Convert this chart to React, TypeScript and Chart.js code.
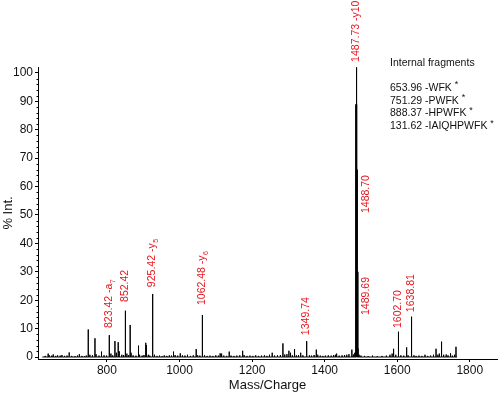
import React, { useEffect, useRef } from "react";
import { Chart, registerables } from "chart.js";

Chart.register(...registerables);

// Peak list (m/z, % intensity)
const peakMz = [
  630, 638, 641, 648, 652, 659, 664, 671, 676, 683, 690, 696, 703, 712, 719, 724, 731, 738, 743,
  748.5, 753, 760, 767, 770, 778, 785, 792, 799, 806.5, 811, 816, 822, 826, 831, 834, 841, 846,
  850, 851.5, 855, 860, 864, 866.5, 872, 880, 887, 890, 897, 902, 907, 909, 914, 918,
  925.42, 926.5, 931, 938, 945, 952, 958, 965, 972, 978, 983.5, 988, 995, 1002, 1008, 1015,
  1022, 1030, 1038, 1046, 1050, 1056, 1062.48, 1063.5, 1069, 1076, 1084, 1092, 1100, 1107,
  1112, 1116, 1122, 1130, 1137, 1142, 1150, 1158, 1166, 1174, 1178, 1186, 1194, 1202, 1210,
  1218, 1226, 1234, 1241, 1248, 1255.5, 1262, 1270, 1278, 1285, 1290, 1296, 1301.5, 1306,
  1311, 1317, 1322, 1328, 1334, 1340, 1349.74, 1351, 1358, 1364, 1371, 1377, 1381, 1388,
  1395, 1402, 1410, 1418, 1425, 1430, 1433, 1440, 1448, 1455, 1461, 1467, 1475, 1479, 1483,
  1486.9, 1487.73, 1488.7, 1489.69, 1490.6, 1492, 1495, 1500, 1510, 1520, 1532, 1545, 1558,
  1570, 1580, 1586, 1590, 1596, 1602.7, 1604, 1610, 1618, 1626, 1630, 1638.81, 1640, 1646,
  1652, 1660, 1668, 1676.5, 1684, 1692, 1700, 1707, 1712, 1716, 1721, 1723, 1728, 1735, 1740,
  1747, 1752, 1758, 1762,
];
const peakInt = [
  0.4, 1.2, 0.6, 0.5, 0.9, 0.4, 0.6, 0.5, 0.7, 0.4, 0.5, 1.6, 0.4, 0.3, 0.5, 1.0, 0.4, 0.3, 0.5,
  9.7, 0.8, 0.6, 6.6, 1.0, 0.5, 1.9, 0.6, 0.5, 7.7, 1.2, 0.6, 5.6, 1.5, 5.2, 2.0, 0.8, 0.7,
  16.3, 11.5, 1.2, 0.7, 11.3, 1.5, 0.6, 0.5, 4.0, 0.8, 0.5, 0.7, 5.0, 4.2, 0.8, 0.5,
  22.2, 8.9, 0.8, 0.4, 0.5, 0.3, 0.6, 0.4, 0.6, 0.5, 1.9, 0.7, 0.5, 1.3, 0.6, 0.5,
  0.8, 0.4, 0.6, 2.8, 0.6, 0.5, 14.8, 3.2, 0.6, 0.4, 0.5, 0.4, 0.6, 0.5,
  1.3, 1.2, 0.5, 0.4, 1.9, 0.5, 0.4, 0.5, 0.6, 2.2, 0.7, 0.4, 0.5, 0.4, 0.6,
  0.4, 0.5, 0.6, 0.4, 0.8, 1.5, 0.5, 0.6, 0.7, 4.8, 0.9, 1.0, 2.2, 1.5,
  0.6, 2.8, 0.6, 0.7, 1.5, 0.6, 5.6, 1.8, 0.6, 0.5, 0.7, 2.6, 0.8, 0.5,
  0.4, 0.5, 0.6, 0.5, 0.7, 0.8, 1.2, 0.5, 0.6, 0.7, 0.8, 1.0, 2.6, 0.9, 1.5,
  89, 102, 66, 30, 12, 3, 0.8, 0.5, 0.4, 0.3, 0.5, 0.3, 0.4,
  0.5, 0.8, 1.2, 2.9, 0.8, 8.9, 1.5, 0.6, 0.5, 3.4, 0.6, 14.2, 3.5, 0.6,
  0.4, 0.5, 0.4, 0.8, 0.4, 0.5, 0.8, 2.9, 0.8, 1.2, 5.4, 3.6, 0.8, 0.9, 0.6,
  1.3, 0.5, 0.8, 3.6,
];
const baselineStart = 622;
const baselineEnd = 1765;

const xTicks = [800, 1000, 1200, 1400, 1600, 1800];
const yTicks = [0, 10, 20, 30, 40, 50, 60, 70, 80, 90, 100];

// Peak annotations
const labelText = ["823.42 -a", "852.42", "925.42 -y", "1062.48 -y", "1349.74", "1487.73 -y10", "1488.70", "1489.69", "1602.70", "1638.81"];
const labelSub = ["7", "", "5", "6", "", "", "", "", "", ""];
const labelAtMz = [806.5, 850, 925.42, 1062.48, 1349.74, 1487.73, 1513.5, 1513.5, 1602.7, 1638.81];
const labelAtInt = [10.2, 19.4, 24.6, 18.3, 7.7, 103.9, 50.7, 14.8, 10.2, 15.8];

// Internal fragments box
const fragTitle = "Internal fragments";
const fragMass = ["653.96", "751.29", "888.37", "131.62"];
const fragSeq = ["WFK", "PWFK", "HPWFK", "IAIQHPWFK"];

const FONT = "'Liberation Sans', Arial, Helvetica, sans-serif";

export default function App() {
  const ref = useRef<HTMLCanvasElement | null>(null);

  useEffect(() => {
    const canvas = ref.current;
    if (!canvas) return;

    const pts: { x: number; y: number }[] = [{ x: baselineStart, y: 0 }];
    const order = peakMz.map((_, i) => i).sort((a, b) => peakMz[a] - peakMz[b]);
    for (const i of order) {
      pts.push({ x: peakMz[i], y: 0 });
      pts.push({ x: peakMz[i], y: peakInt[i] });
      pts.push({ x: peakMz[i], y: 0 });
    }
    pts.push({ x: baselineEnd, y: 0 });

    const annot = {
      id: "annot",
      afterDraw(chart: any) {
        const ctx = chart.ctx as CanvasRenderingContext2D;
        const xs = chart.scales.x;
        const ys = chart.scales.y;
        // minor y ticks
        ctx.save();
        ctx.strokeStyle = "#000";
        ctx.lineWidth = 1;
        const ax = Math.round(chart.chartArea.left) + 0.5;
        for (let v = 2; v <= 100; v += 2) {
          if (v % 10 === 0) continue;
          const py = Math.round(ys.getPixelForValue(v)) + 0.5;
          ctx.beginPath();
          ctx.moveTo(ax - 2, py);
          ctx.lineTo(ax, py);
          ctx.stroke();
        }
        ctx.restore();

        // red peak labels
        ctx.save();
        ctx.fillStyle = "#e8141b";
        for (let i = 0; i < labelText.length; i++) {
          const px = xs.getPixelForValue(labelAtMz[i]);
          const py = ys.getPixelForValue(labelAtInt[i]);
          ctx.save();
          ctx.translate(px, py);
          ctx.rotate(-Math.PI / 2);
          ctx.textAlign = "left";
          ctx.textBaseline = "middle";
          ctx.font = `10.5px ${FONT}`;
          ctx.fillText(labelText[i], 0, 0);
          if (labelSub[i]) {
            const w = ctx.measureText(labelText[i]).width;
            ctx.font = `7px ${FONT}`;
            ctx.fillText(labelSub[i], w + 0.5, 3.5);
          }
          ctx.restore();
        }
        ctx.restore();

        // internal fragments text
        ctx.save();
        ctx.fillStyle = "#111";
        ctx.textAlign = "left";
        ctx.textBaseline = "middle";
        ctx.font = `10.5px ${FONT}`;
        const x0 = 390;
        ctx.fillText(fragTitle, x0, 63);
        for (let i = 0; i < fragMass.length; i++) {
          const y = 88 + i * 12.7;
          const s = `${fragMass[i]} -${fragSeq[i]} `;
          ctx.font = `10.5px ${FONT}`;
          ctx.fillText(s, x0, y);
          const w = ctx.measureText(s).width;
          ctx.font = `9px ${FONT}`;
          ctx.fillText("*", x0 + w, y - 3);
        }
        ctx.restore();
      },
    };

    const chart = new Chart(canvas, {
      type: "line",
      data: {
        datasets: [
          {
            data: pts,
            borderColor: "#000",
            borderWidth: 1,
            pointRadius: 0,
            tension: 0,
            fill: false,
            segment: {
              borderWidth: (c: any) => {
                const h = Math.max(c.p0.parsed.y, c.p1.parsed.y);
                if (h > 60 && h < 95) return 2.2;
                if (h >= 25 && h <= 60) return 2.8;
                return 1;
              },
            },
          } as any,
        ],
      },
      options: {
        responsive: false,
        animation: false,
        devicePixelRatio: 1,
        parsing: false as any,
        normalized: true,
        layout: { padding: { top: 67, right: 3, bottom: 0, left: 0 } },
        plugins: { legend: { display: false }, tooltip: { enabled: false } },
        scales: {
          x: {
            type: "linear",
            min: 610,
            max: 1875,
            afterBuildTicks: (s: any) => {
              s.ticks = xTicks.map((v) => ({ value: v }));
            },
            afterFit: (s: any) => {
              s.height = 35;
            },
            grid: { display: true, drawOnChartArea: false, drawTicks: true, tickLength: 3, color: "#000" },
            border: { display: true, color: "#000", width: 1 },
            ticks: {
              color: "#111",
              font: { family: FONT, size: 12 },
              padding: 1,
              maxRotation: 0,
              autoSkip: false,
              callback: (v: any) => String(v),
            },
            title: { display: true, text: "Mass/Charge", color: "#111", font: { family: FONT, size: 13 }, padding: { top: 0, bottom: 1 } },
          },
          y: {
            type: "linear",
            min: -0.7,
            max: 102.1,
            afterBuildTicks: (s: any) => {
              s.ticks = yTicks.map((v) => ({ value: v }));
            },
            afterFit: (s: any) => {
              s.width = 38;
            },
            grid: { display: true, drawOnChartArea: false, drawTicks: true, tickLength: 3, color: "#000" },
            border: { display: true, color: "#000", width: 1 },
            ticks: { color: "#111", font: { family: FONT, size: 12 }, padding: 2, autoSkip: false, callback: (v: any) => String(v) },
            title: { display: true, text: "% Int.", color: "#111", font: { family: FONT, size: 13 }, padding: { top: 1, bottom: 0 } },
          },
        },
      },
      plugins: [annot],
    });

    return () => chart.destroy();
  }, []);

  return (
    <div style={{ position: "fixed", left: 0, top: 0, width: 500, height: 394, background: "#fff" }}>
      <canvas ref={ref} width={500} height={394} style={{ width: 500, height: 394, display: "block" }} />
    </div>
  );
}
